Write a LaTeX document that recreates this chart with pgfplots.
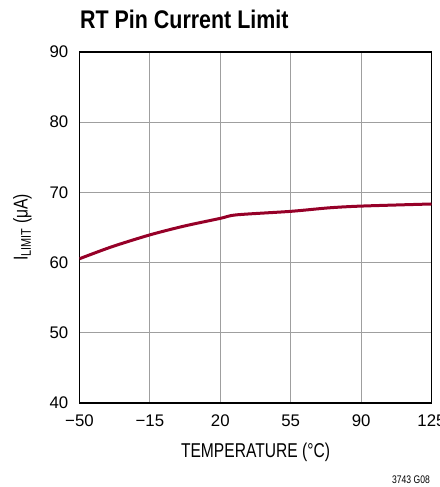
\documentclass[border=0pt]{standalone}
\usepackage{fontspec}
\setmainfont{Liberation Sans}
\newfontfamily\condfont{Liberation Sans}[FakeStretch=0.78]
\newfontfamily\titlefont{Liberation Sans}[FakeStretch=0.84]
\usepackage{pgfplots}
\pgfplotsset{compat=1.18}
\definecolor{curvered}{RGB}{150,0,40}
\begin{document}
\begin{tikzpicture}
  \useasboundingbox (-79.5pt,-84pt) rectangle (359.5pt,403pt);
  \begin{axis}[
    at={(0pt,0pt)}, anchor=south west,
    scale only axis,
    width=352pt, height=351pt,
    xmin=-50, xmax=125,
    ymin=40, ymax=90,
    xtick={-50,-15,20,55,90,125},
    xticklabels={−50,−15,20,55,90,125},
    ytick={40,50,60,70,80,90},
    major tick length=0pt,
    grid=major,
    major grid style={gray!75, line width=1pt},
    axis line style={black, line width=1.3pt},
    /pgf/number format/assume math mode=true,
    tick label style={font=\fontsize{16.8}{20}\selectfont, inner sep=0pt},
    xticklabel style={anchor=north, yshift=-12pt},
    yticklabel style={anchor=east, xshift=-11pt},
    xlabel={\condfont TEMPERATURE (°C)},
    xlabel style={at={(axis description cs:0.5,-0.154)}, anchor=base,
      font=\fontsize{20}{24}\selectfont, inner sep=0pt},
    ylabel={\condfont I\textsubscript{LIMIT} (μA)},
    ylabel style={at={(axis description cs:-0.162,0.5)}, anchor=center,
      font=\fontsize{20}{24}\selectfont, inner sep=0pt},
  ]
    \addplot[curvered, line width=3pt, smooth, tension=0.45] coordinates {
      (-50,60.55) (-34,62.25) (-15,63.95) (2,65.2) (20,66.3)
      (28,66.8) (55,67.3) (74,67.8) (90,68.05) (125,68.35)
    };
  \end{axis}
  \node[anchor=base west, inner sep=0pt, font=\fontsize{25.5}{30}\selectfont\titlefont\bfseries]
    at (0.5pt,374pt) {RT Pin Current Limit};
  \node[anchor=base east, inner sep=0pt, font=\fontsize{11}{13}\selectfont\condfont]
    at (350.5pt,-80pt) {3743 G08};
\end{tikzpicture}
\end{document}
